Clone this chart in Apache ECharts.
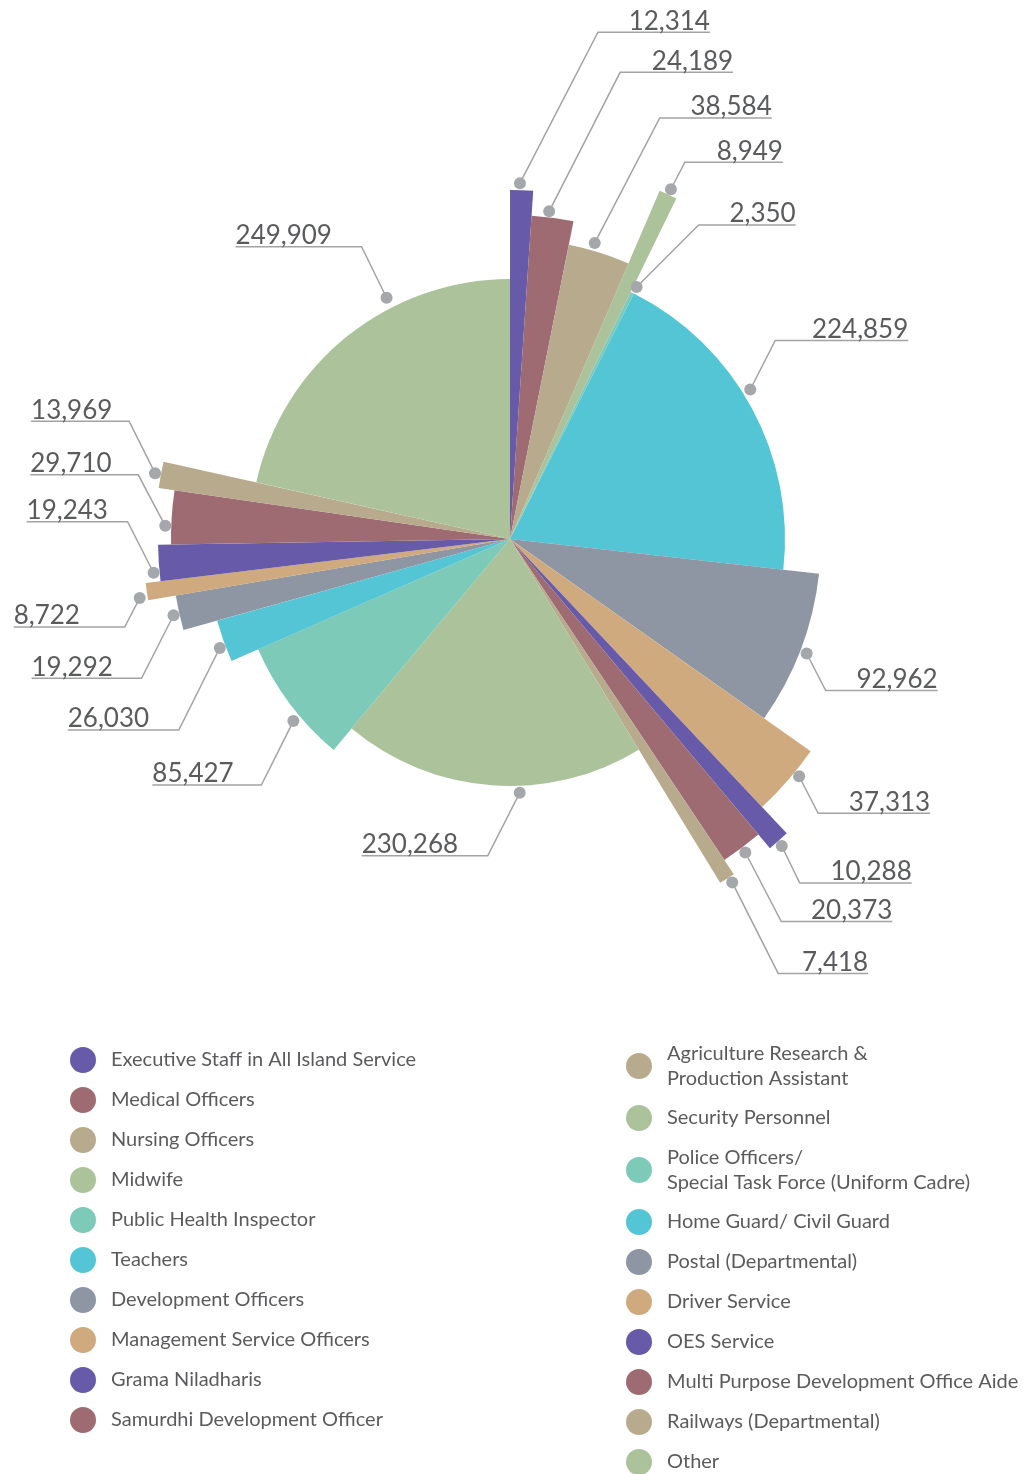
<!DOCTYPE html>
<html>
<head>
<meta charset="utf-8">
<script src="https://cdn.jsdelivr.net/npm/echarts@6/dist/echarts.min.js"></script>
<style>
  html, body { margin: 0; padding: 0; background: #fff; }
  #main { width: 1023px; height: 1474px; }
</style>
</head>
<body>
<div id="main"></div>
<script>
// categories, clockwise from 12 o'clock
const categories = [
  "Executive Staff in All Island Service",
  "Medical Officers",
  "Nursing Officers",
  "Midwife",
  "Public Health Inspector",
  "Teachers",
  "Development Officers",
  "Management Service Officers",
  "Grama Niladharis",
  "Samurdhi Development Officer",
  "Agriculture Research & Production Assistant",
  "Security Personnel",
  "Police Officers/ Special Task Force (Uniform Cadre)",
  "Home Guard/ Civil Guard",
  "Postal (Departmental)",
  "Driver Service",
  "OES Service",
  "Multi Purpose Development Office Aide",
  "Railways (Departmental)",
  "Other"
];
const values = [
  12314, 24189, 38584, 8949, 2350, 224859, 92962, 37313, 10288, 20373,
  7418, 230268, 85427, 26030, 19292, 8722, 19243, 29710, 13969, 249909
];

// ---- look ----
const palette = {
  purple: "#675aa8", mauve: "#9e6b72", tan: "#b8aa8c", green: "#abc29b",
  mint: "#7ecab8", cyan: "#53c5d5", gray: "#8e95a3", peach: "#d0aa7f"
};
const sliceColors = [
  palette.purple, palette.mauve, palette.tan, palette.green, palette.mint,
  palette.cyan, palette.gray, palette.peach, palette.purple, palette.mauve,
  palette.tan, palette.green, palette.mint, palette.cyan, palette.gray,
  palette.peach, palette.purple, palette.mauve, palette.tan, palette.green
];
// outer radius of each sector (px), purely decorative in the original
const sliceRadius = [349, 324, 300, 379, 275, 275, 311, 368, 404, 386, 403, 247, 275, 304, 339, 367, 352, 339, 355, 260];
// where the leader dot sits inside the sector (0..1 of its sweep) and how far outside
const dotAt = [0.42, 0.4, 0.39, 0.52, 0.9, 0.45, 0.51, 0.36, 0.54, 0.5, 0.36, 0.41, 0.38, 0.38, 0.47, 0.2, 0.25, 0.34, 0.52, 0.65];
const dotGap = [7, 6, 8, 6, 7, 8, 7, 6, 6, 6, 6, 7, 8, 6, 6, 8, 6, 6, 6, 11];
// leader: diagonal [dx, dy] then a horizontal run
const leaderDx = [78, 71, 65, 14, 62, 25, 19, 19, 18, 36, 46, -32, -32, -41, -32, -15, -26, -27, -26, -25];
const leaderDy = [-151, -139, -125, -27, -62, -49, 37, 37, 37, 69, 91, 63, 64, 82, 63, 29, -51, -51, -52, -51];
const leaderRun = [112, 113, 112, 98, 97, 133, 112, 112, 112, 111, 90, -126, -109, -111, -110, -111, -101, -108, -98, -126];

const total = values.reduce((a, b) => a + b, 0);
let acc = 0;
const sliceData = values.map((v, i) => {
  const item = [sliceRadius[i], acc, acc + v, v, i];
  acc += v;
  return item;
});

const chart = echarts.init(document.getElementById("main"));

const legendText = { fontSize: 20, color: "#5b5b5d", fontFamily: "Lato", lineHeight: 25 };

const option = {
  backgroundColor: "#fff",
  animation: false,
  polar: { center: [510, 539], radius: 400 },
  angleAxis: { type: "value", min: 0, max: total, startAngle: 90, clockwise: true, show: false },
  radiusAxis: { type: "value", min: 0, max: 400, show: false },
  legend: [
    {
      data: categories.slice(0, 10),
      orient: "vertical",
      left: 65,
      top: 1042,
      icon: "circle",
      itemWidth: 46,
      itemHeight: 26,
      itemGap: 14,
      selectedMode: false,
      textStyle: legendText
    },
    {
      data: categories.slice(10),
      orient: "vertical",
      left: 621,
      top: 1036,
      icon: "circle",
      itemWidth: 46,
      itemHeight: 26,
      itemGap: 14,
      selectedMode: false,
      formatter: (name) => name.replace("Research & ", "Research &\n").replace("Officers/ ", "Officers/\n"),
      textStyle: legendText
    }
  ],
  series: [
    {
      // sectors, leader lines and value labels
      type: "custom",
      coordinateSystem: "polar",
      silent: true,
      data: sliceData,
      renderItem: function (params, api) {
        const i = api.value(4);
        const cs = params.coordSys;
        const r = api.value(0);
        const s = api.value(1);
        const e = api.value(2);
        const pA = api.coord([r, s]);
        const pB = api.coord([r, e]);
        const a0 = Math.atan2(pA[1] - cs.cy, pA[0] - cs.cx);
        let a1 = Math.atan2(pB[1] - cs.cy, pB[0] - cs.cx);
        if (a1 <= a0) a1 += Math.PI * 2;

        const dot = api.coord([r + dotGap[i], s + (e - s) * dotAt[i]]);
        const elbow = [dot[0] + leaderDx[i], dot[1] + leaderDy[i]];
        const tail = [elbow[0] + leaderRun[i], elbow[1]];

        return {
          type: "group",
          children: [
            {
              type: "sector",
              shape: { cx: cs.cx, cy: cs.cy, r0: 0, r: r, startAngle: a0, endAngle: a1, clockwise: true },
              style: { fill: sliceColors[i] }
            },
            {
              type: "polyline",
              shape: { points: [dot, elbow, tail] },
              style: { stroke: "#a3a3a3", lineWidth: 1.5, fill: null }
            },
            {
              type: "circle",
              shape: { cx: dot[0], cy: dot[1], r: 6 },
              style: { fill: "#a5a8aa" }
            },
            {
              type: "text",
              x: tail[0],
              y: elbow[1] + 2,
              style: {
                text: values[i].toLocaleString("en-US"),
                fontSize: 26,
                fontFamily: "Lato",
                fill: "#5a5b5d",
                align: leaderRun[i] > 0 ? "right" : "left",
                verticalAlign: "bottom"
              }
            }
          ]
        };
      }
    },
    {
      // invisible pie only feeds the legend with names and colours
      type: "pie",
      radius: [0, 0],
      center: [-100, -100],
      silent: true,
      label: { show: false },
      labelLine: { show: false },
      data: categories.map((name, i) => ({ name: name, value: values[i], itemStyle: { color: sliceColors[i] } }))
    }
  ]
};

chart.setOption(option);
</script>
</body>
</html>
